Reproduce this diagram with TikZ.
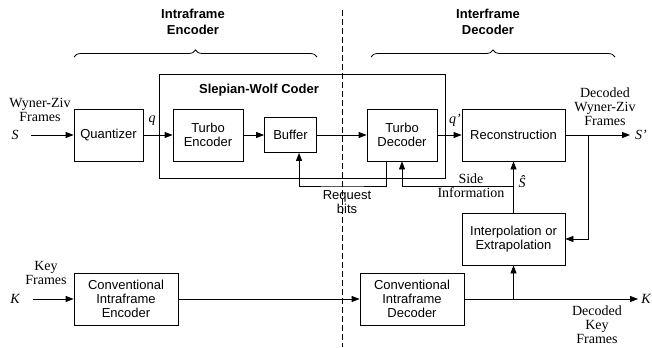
\documentclass[tikz,border=0pt]{standalone}
\usepackage{fontspec}
\setmainfont{Liberation Serif}
\setsansfont{Liberation Sans}
\usetikzlibrary{arrows.meta,decorations.pathreplacing}

\begin{document}
\begin{tikzpicture}[x=0.75pt, y=-0.75pt, line width=0.6pt,
  >={Triangle[length=6pt,width=4.5pt]},
  blk/.style={draw, align=center, inner sep=1pt, minimum height=39pt, font=\sffamily\fontsize{9.75}{10.5}\selectfont},
  txt/.style={align=center, inner sep=0pt, font=\fontsize{10.5}{10.5}\selectfont},
  stxt/.style={align=center, inner sep=0pt, font=\sffamily\fontsize{9.75}{10}\selectfont},
  hdr/.style={align=center, inner sep=0pt, font=\sffamily\bfseries\fontsize{9.75}{12}\selectfont},
  var/.style={inner sep=0pt, font=\itshape\fontsize{10.5}{10.5}\selectfont},
  brc/.style={decorate, decoration={brace, amplitude=5.25pt}}]
 \useasboundingbox (0, 0) rectangle (652, 347);

 \draw (302, 126) node[draw, minimum width=214.5pt, minimum height=78pt] (sw) {};
 \draw (259, 90) node[hdr] (swlabel) {Slepian-Wolf Coder};
 \draw (193, 22) node[hdr] (intra) {Intraframe\\Encoder};
 \draw (488, 22) node[hdr] (inter) {Interframe\\Decoder};

 \draw (108.5, 135) node[blk, minimum width=51.75pt] (quant) {Quantizer};
 \draw (208, 135) node[blk, minimum width=52.5pt] (tenc) {Turbo\\Encoder};
 \draw (290.5, 135) node[blk, minimum width=39pt, minimum height=26.25pt] (buf) {Buffer};
 \draw (402, 135) node[blk, minimum width=52.5pt] (tdec) {Turbo\\Decoder};
 \draw (513.5, 135) node[blk, minimum width=77.25pt] (rec) {Reconstruction};
 \draw (513.5, 239) node[blk, minimum width=77.25pt] (interp) {Interpolation or\\Extrapolation};
 \draw (126, 299) node[blk, minimum width=78pt] (cie) {Conventional\\Intraframe\\Encoder};
 \draw (412, 299) node[blk, minimum width=78pt] (cid) {Conventional\\Intraframe\\Decoder};

 \draw (40, 110) node[txt] (wzin) {Wyner-Ziv\\Frames};
 \draw (15, 135) node[var] (s) {S};
 \draw (152, 121) node[var] (q) {q};
 \draw (455, 120) node[var] (qp) {q'};
 \draw (605, 107) node[txt] (wzout) {Decoded\\Wyner-Ziv\\Frames};
 \draw (641, 135) node[var] (sp) {S'};
 \draw (522, 182) node[var] (shat) {\^{S}};
 \draw (471, 186) node[txt] (sideinfo) {Side\\Information};
 \draw (347, 202) node[stxt] (reqbits) {Request\\bits};
 \draw (46, 273) node[txt] (keyin) {Key\\Frames};
 \draw (15, 299) node[var] (k) {K};
 \draw (646, 299) node[var] (kp) {K};
 \draw (597, 325) node[txt] (keyout) {Decoded\\Key\\Frames};

 \coordinate (sin) at (31, 135);
 \coordinate (sout) at (630, 135);
 \coordinate (split1) at (588, 135);
 \coordinate (side) at (513.5, 186);
 \coordinate (req) at (342, 186);
 \coordinate (kin) at (33, 299);
 \coordinate (kout) at (638, 299);
 \coordinate (split2) at (513.5, 299);
 \coordinate (dtop) at (342, 10);
 \coordinate (dbot) at (342, 347);

 \draw[brc] (74, 57) -- (317, 57);
 \draw[brc] (371, 57) -- (615, 57);
 \draw[dashed, dash pattern=on 4.5pt off 2.25pt] (dtop) -- (dbot);

 \draw[->] (sin) -- (quant);
 \draw[->] (quant) -- (tenc);
 \draw[->] (tenc) -- (buf);
 \draw[->] (buf) -- (tdec);
 \draw[->] (tdec) -- (rec);
 \draw[->] (rec) -- (sout);
 \draw[->] (split1) |- (interp);
 \draw[->] (interp) -- (rec);
 \draw[->] (side) -| (tdec.south);
 \draw[->] ([xshift=-12pt]tdec.south) |- (req) -| ([xshift=6.4pt]buf.south);
 \draw[->] (kin) -- (cie);
 \draw[->] (cie) -- (cid);
 \draw[->] (cid) -- (kout);
 \draw[->] (split2) -- (interp);
\end{tikzpicture}
\end{document}
